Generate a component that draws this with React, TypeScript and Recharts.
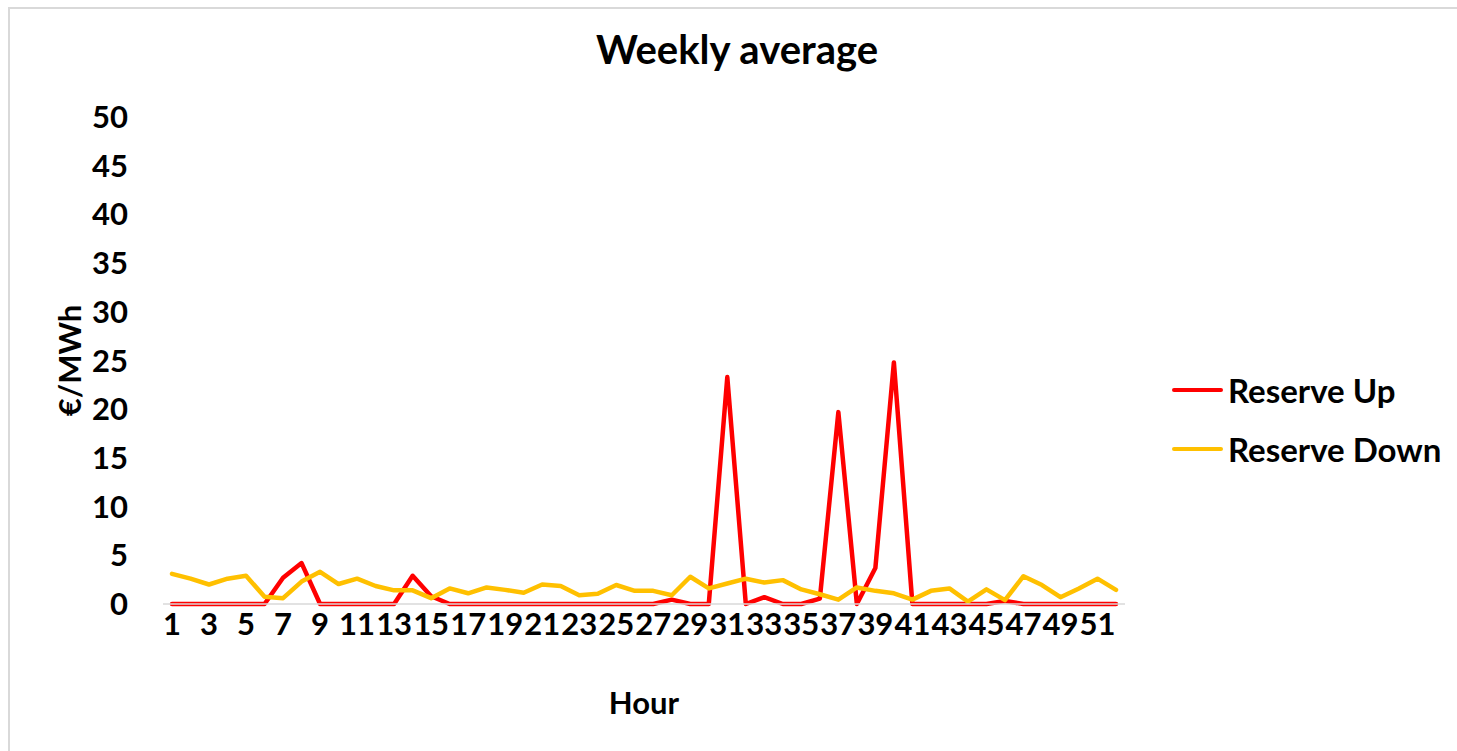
import React from 'react';
import { LineChart, Line, XAxis, YAxis } from 'recharts';

const hours = [
  '1', '2', '3', '4', '5', '6', '7', '8', '9', '10', '11', '12', '13',
  '14', '15', '16', '17', '18', '19', '20', '21', '22', '23', '24', '25', '26',
  '27', '28', '29', '30', '31', '32', '33', '34', '35', '36', '37', '38', '39',
  '40', '41', '42', '43', '44', '45', '46', '47', '48', '49', '50', '51', '52',
];

const reserveUp = [
  0, 0, 0, 0, 0, 0, 2.7, 4.2, 0, 0, 0, 0, 0,
  2.9, 0.8, 0, 0, 0, 0, 0, 0, 0, 0, 0, 0, 0,
  0, 0.45, 0, 0, 23.3, 0, 0.7, 0, 0, 0.55, 19.7, 0, 3.7,
  24.8, 0, 0, 0, 0, 0, 0.3, 0, 0, 0, 0, 0, 0,
];

const reserveDown = [
  3.1, 2.6, 2.0, 2.6, 2.9, 0.75, 0.6, 2.3, 3.3, 2.05, 2.6, 1.85, 1.4,
  1.4, 0.6, 1.6, 1.1, 1.7, 1.45, 1.15, 2.0, 1.85, 0.9, 1.05, 1.95, 1.35,
  1.35, 0.9, 2.8, 1.6, 2.1, 2.6, 2.2, 2.45, 1.5, 1.0, 0.45, 1.7, 1.35,
  1.1, 0.45, 1.35, 1.6, 0.25, 1.5, 0.4, 2.85, 1.95, 0.7, 1.6, 2.6, 1.45,
];

const yTicks = [0, 5, 10, 15, 20, 25, 30, 35, 40, 45, 50];

const series = [
  { key: 'up', name: 'Reserve Up', color: '#ff0000' },
  { key: 'down', name: 'Reserve Down', color: '#ffc000' },
];

const data = hours.map((h, i) => ({ hour: h, up: reserveUp[i], down: reserveDown[i] }));

const FONT = 'Lato, Carlito, Calibri, sans-serif';
const tickStyle = { fill: '#000', fontSize: 31, fontWeight: 700, fontFamily: FONT };

// legend drawn outside recharts so it does not shrink the plot area
function LegendBox() {
  return (
    <div
      style={{
        position: 'absolute',
        left: 1172,
        top: 360,
        fontFamily: FONT,
        fontWeight: 700,
        fontSize: 33,
        color: '#000',
        whiteSpace: 'nowrap',
      }}
    >
      {series.map((s) => (
        <div key={s.key} style={{ display: 'flex', alignItems: 'center', height: 59 }}>
          <span style={{ width: 51, height: 4, background: s.color, borderRadius: 2, marginRight: 5 }} />
          <span>{s.name}</span>
        </div>
      ))}
    </div>
  );
}

export default function App() {
  return (
    <div>
      <div
        style={{
          position: 'absolute',
          left: 8,
          top: 7,
          width: 1449,
          height: 744,
          borderTop: '2px solid #d9d9d9',
          borderLeft: '2px solid #d9d9d9',
          boxSizing: 'border-box',
        }}
      />
      <div style={{ position: 'absolute', left: 0, top: 0 }}>
        <LineChart
          width={1457}
          height={751}
          data={data}
          margin={{ top: 117, right: 332, left: 0, bottom: 0 }}
        >
          <text
            x={737}
            y={64}
            textAnchor="middle"
            style={{ fontFamily: FONT, fontWeight: 700, fontSize: 40, fill: '#000' }}
          >
            Weekly average
          </text>
          <XAxis
            dataKey="hour"
            interval={1}
            height={147}
            padding={{ left: 9, right: 9 }}
            tick={tickStyle}
            tickLine={false}
            tickSize={6}
            tickMargin={3}
            axisLine={{ stroke: '#d9d9d9', strokeWidth: 1.5 }}
            label={{
              value: 'Hour',
              position: 'insideTop',
              offset: 88,
              style: { ...tickStyle },
            }}
          />
          <YAxis
            domain={[0, 50]}
            ticks={yTicks}
            width={163}
            tick={tickStyle}
            tickLine={false}
            tickSize={6}
            tickMargin={29}
            axisLine={false}
            label={{
              value: '€/MWh',
              angle: -90,
              position: 'center',
              dx: -12,
              style: { ...tickStyle },
            }}
          />
          {series.map((s) => (
            <Line
              key={s.key}
              type="linear"
              dataKey={s.key}
              name={s.name}
              stroke={s.color}
              strokeWidth={4.5}
              strokeLinejoin="round"
              strokeLinecap="round"
              dot={false}
              activeDot={false}
              isAnimationActive={false}
            />
          ))}
        </LineChart>
      </div>
      <LegendBox />
    </div>
  );
}
